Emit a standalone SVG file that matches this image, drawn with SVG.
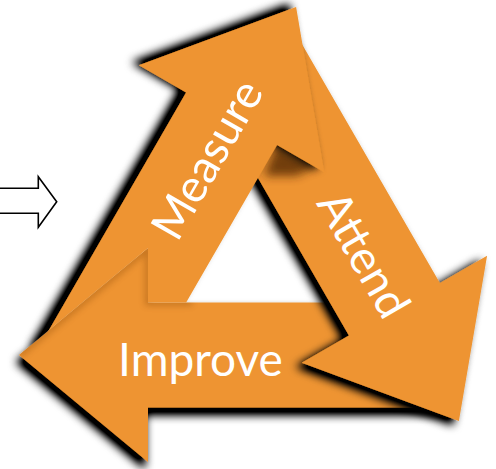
<svg xmlns="http://www.w3.org/2000/svg" width="496" height="469" viewBox="0 0 496 469">
<defs>
<style>
.arrow{fill:#EE9431;}
.lbl{font-family:Lato,"Open Sans",sans-serif;font-size:46px;fill:#FFFFFF;text-anchor:middle;}
.hollow{fill:#FFFFFF;stroke:#000000;stroke-width:1.6;stroke-linejoin:miter;}
</style>
<filter id="shI" filterUnits="userSpaceOnUse" x="-20" y="200" width="520" height="280">
<feGaussianBlur in="SourceAlpha" stdDeviation="5"/>
<feOffset dx="-3" dy="7"/>
<feComponentTransfer><feFuncA type="linear" slope="1.4"/></feComponentTransfer>
<feMerge><feMergeNode/><feMergeNode in="SourceGraphic"/></feMerge>
</filter>
<filter id="shM" filterUnits="userSpaceOnUse" x="-20" y="-20" width="400" height="440">
<feGaussianBlur in="SourceAlpha" stdDeviation="5"/>
<feOffset dx="-7" dy="-3"/>
<feComponentTransfer><feFuncA type="linear" slope="1.4"/></feComponentTransfer>
<feMerge><feMergeNode/><feMergeNode in="SourceGraphic"/></feMerge>
</filter>
<filter id="shA" filterUnits="userSpaceOnUse" x="150" y="-20" width="360" height="500">
<feGaussianBlur in="SourceAlpha" stdDeviation="5"/>
<feOffset dx="-6" dy="4"/>
<feComponentTransfer><feFuncA type="linear" slope="1.4"/></feComponentTransfer>
<feMerge><feMergeNode/><feMergeNode in="SourceGraphic"/></feMerge>
</filter>
<filter id="soft" x="-30%" y="-30%" width="160%" height="160%">
<feGaussianBlur stdDeviation="3"/>
</filter>
<filter id="soft2" x="-50%" y="-50%" width="200%" height="200%">
<feGaussianBlur stdDeviation="5"/>
</filter>
<polygon id="arr" points="19,355 148,248 148,302.5 445,302.5 445,407.5 148,407.5 148,462"/>
<clipPath id="impFront"><polygon points="19,355 148,248 148,302.5 230,302.5 230,407.5 148,407.5 148,462"/></clipPath>
<mask id="mM" maskUnits="userSpaceOnUse" x="0" y="0" width="496" height="469">
<rect x="0" y="0" width="496" height="469" fill="#FFFFFF"/>
<polygon points="19,355 148,248 148,302.5 230,302.5 230,407.5 148,407.5 148,462" fill="#000000"/>
</mask>
</defs>
<g id="connectors">
<path class="hollow" d="M-2,188.3 H38.3 V176.7 L56.7,201.7 L38.3,227.3 V213.3 H-2"/>
</g>
<g id="improve">
<g filter="url(#shI)"><use href="#arr" class="arrow"/></g>
<g clip-path="url(#impFront)">
<path d="M19,355 L148,248 L148,302.5 L192,302.5" fill="none" stroke="#7A3C00" stroke-width="6" opacity="0.35" filter="url(#soft)"/>
</g>
<text class="lbl" x="200.5" y="376">Improve</text>
</g>
<g id="attend">
<g filter="url(#shA)"><use href="#arr" class="arrow" transform="rotate(240 258 261)"/></g>
<text class="lbl" transform="translate(363 255) rotate(60)" x="0" y="15">Attend</text>
</g>
<g id="measure" mask="url(#mM)">
<polygon points="276,144 318,166 296,176 264,176" fill="#4A2200" opacity="0.75" filter="url(#soft2)"/>
<g filter="url(#shM)"><use href="#arr" class="arrow" transform="rotate(120 258 261)"/></g>
<text class="lbl" transform="translate(208 160) rotate(-60)" x="0" y="15">Measure</text>
</g>
</svg>
